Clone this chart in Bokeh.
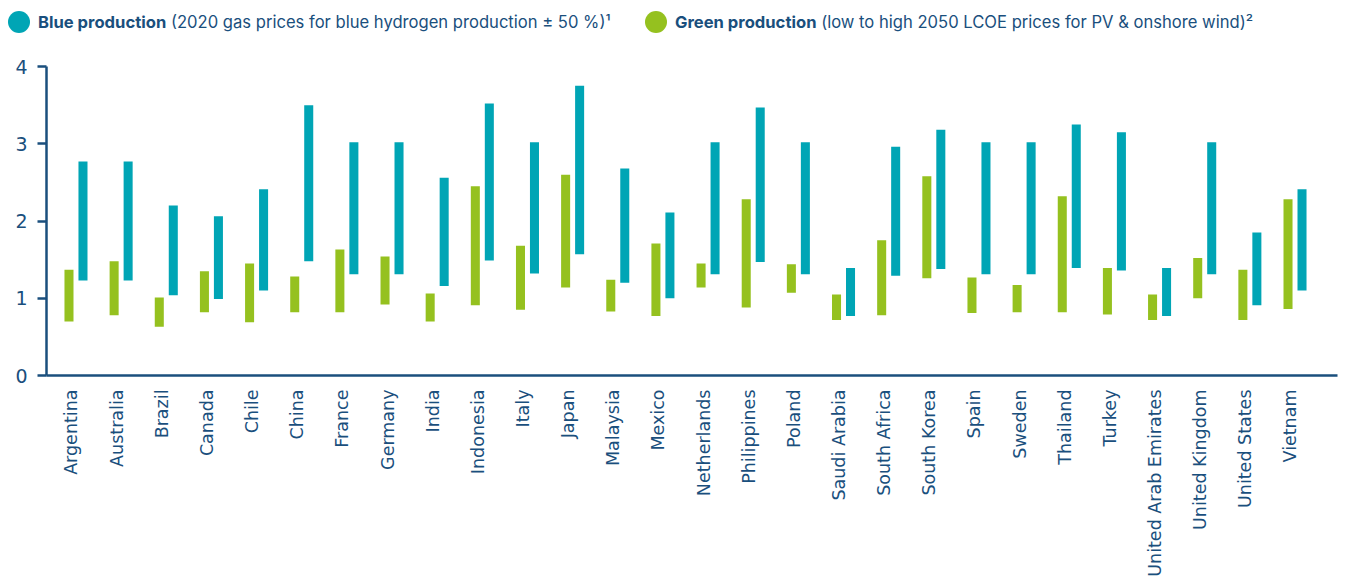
from bokeh.plotting import figure
from bokeh.layouts import column
from bokeh.models import FixedTicker, ColumnDataSource, Div
from bokeh.embed import file_html
from bokeh.resources import INLINE
import math

countries = ["Argentina", "Australia", "Brazil", "Canada", "Chile", "China", "France",
             "Germany", "India", "Indonesia", "Italy", "Japan", "Malaysia", "Mexico",
             "Netherlands", "Philippines", "Poland", "Saudi Arabia", "South Africa",
             "South Korea", "Spain", "Sweden", "Thailand", "Turkey",
             "United Arab Emirates", "United Kingdom", "United States", "Vietnam"]
green_low = [0.70, 0.78, 0.63, 0.82, 0.69, 0.82, 0.82, 0.92, 0.70, 0.91, 0.85, 1.14, 0.83, 0.77,
             1.14, 0.88, 1.07, 0.72, 0.78, 1.26, 0.81, 0.82, 0.82, 0.79, 0.72, 1.00, 0.72, 0.86]
green_high = [1.37, 1.48, 1.01, 1.35, 1.45, 1.28, 1.63, 1.54, 1.06, 2.45, 1.68, 2.60, 1.24, 1.71,
              1.45, 2.28, 1.44, 1.05, 1.75, 2.58, 1.27, 1.17, 2.32, 1.39, 1.05, 1.52, 1.37, 2.28]
blue_low = [1.23, 1.23, 1.04, 0.99, 1.10, 1.48, 1.31, 1.31, 1.16, 1.49, 1.32, 1.57, 1.20, 1.00,
            1.31, 1.47, 1.31, 0.77, 1.29, 1.38, 1.31, 1.31, 1.39, 1.36, 0.77, 1.31, 0.91, 1.10]
blue_high = [2.77, 2.77, 2.20, 2.06, 2.41, 3.50, 3.02, 3.02, 2.56, 3.52, 3.02, 3.75, 2.68, 2.11,
             3.02, 3.47, 3.02, 1.39, 2.96, 3.18, 3.02, 3.02, 3.25, 3.15, 1.39, 3.02, 1.85, 2.41]
y_ticks = [0, 1, 2, 3, 4]
legend_bold = ["Blue production", "Green production"]
legend_rest = ["(2020 gas prices for blue hydrogen production \u00b1 50 %)\u00b9",
               "(low to high 2050 LCOE prices for PV & onshore wind)\u00b2"]

BLUE = "#00A5B5"
GREEN = "#95C11F"
NAVY = "#1A4F7D"

idx = list(range(len(countries)))
tick_pos = [round(i - 0.1, 3) for i in idx]
src = ColumnDataSource(dict(
    xg=[i - 0.155 for i in idx], xb=[i + 0.155 for i in idx],
    gl=green_low, gh=green_high, bl=blue_low, bh=blue_high))

# Legend as HTML strip
items = []
for (cx, tx, col), bt, rt in zip([(3, 33, BLUE), (640, 670, GREEN)], legend_bold, legend_rest):
    items.append(
        f'<span style="position:absolute;left:{cx}px;top:6px;width:22px;height:22px;'
        f'border-radius:50%;background:{col};"></span>'
        f'<span style="position:absolute;left:{tx}px;top:6px;line-height:22px;white-space:nowrap;">'
        f'<b style="font-weight:700;">{bt}</b> {rt}</span>')
legend_html = (f'<div style="position:relative;width:1338px;height:40px;font-family:Inter,sans-serif;'
               f'font-size:16.6px;color:{NAVY};">' + "".join(items) + '</div>')
leg = Div(text=legend_html, width=1338, height=40)

p = figure(frame_width=1291, frame_height=309, x_range=(-0.653, 27.941), y_range=(0, 4),
           output_backend="svg", toolbar_location=None,
           min_border_left=46, min_border_right=1, min_border_top=16, min_border_bottom=196)
p.outline_line_color = None
p.grid.visible = False

p.vbar(x="xg", bottom="gl", top="gh", width=0.2, color=GREEN, line_color=None, source=src)
p.vbar(x="xb", bottom="bl", top="bh", width=0.2, color=BLUE, line_color=None, source=src)

p.xaxis.ticker = FixedTicker(ticks=tick_pos)
p.xaxis.major_label_overrides = {t: c for t, c in zip(tick_pos, countries)}
p.xaxis.major_label_orientation = math.pi / 2
p.xaxis.major_tick_line_color = None
p.xaxis.major_tick_out = 0
p.xaxis.minor_tick_line_color = None
p.xaxis.major_label_standoff = 14
p.xaxis.major_label_text_font = "DejaVu Sans"
p.xaxis.major_label_text_font_size = "17.5px"
p.xaxis.major_label_text_color = NAVY
p.xaxis.axis_line_color = NAVY
p.xaxis.axis_line_width = 2.5

p.yaxis.ticker = FixedTicker(ticks=y_ticks)
p.yaxis.minor_tick_line_color = None
p.yaxis.major_tick_out = 9
p.yaxis.major_tick_in = 0
p.yaxis.major_tick_line_color = NAVY
p.yaxis.major_tick_line_width = 2.5
p.yaxis.axis_line_color = NAVY
p.yaxis.axis_line_width = 2.5
p.yaxis.major_label_standoff = 10
p.yaxis.major_label_text_font = "DejaVu Sans"
p.yaxis.major_label_text_font_size = "19px"
p.yaxis.major_label_text_color = NAVY

layout = column(leg, p, spacing=0)
open("out.html", "w").write(file_html(layout, INLINE))
